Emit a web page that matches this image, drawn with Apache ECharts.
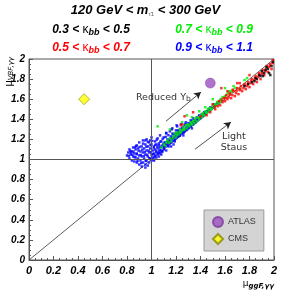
<!DOCTYPE html>
<html><head><meta charset="utf-8">
<script src="https://cdn.jsdelivr.net/npm/echarts@6/dist/echarts.min.js"></script>
<style>html,body{margin:0;padding:0;background:#fff}#c{width:291px;height:291px}</style>
</head><body><div id="c"></div>
<script>
var ticks = ['0','0.2','0.4','0.6','0.8','1','1.2','1.4','1.6','1.8','2'];
var blue = [[0.80,1.04],[0.81,1.07],[0.82,1.01],[0.82,1.10],[0.83,1.05],[0.84,0.99],[0.84,1.08],[0.85,1.03],[0.85,1.12],
[0.86,1.06],[0.86,0.98],[0.87,1.10],[0.87,1.02],[0.88,1.14],[0.88,0.97],[0.88,1.06],[0.89,1.01],[0.89,1.11],[0.90,1.04],[0.90,0.95],[0.90,1.17],
[0.91,1.08],[0.91,0.99],[0.92,1.13],[0.92,1.03],[0.92,0.93],[0.93,1.07],[0.93,0.97],[0.93,1.19],[0.94,1.11],[0.94,1.01],[0.95,1.05],[0.95,0.95],[0.95,1.15],
[0.96,1.09],[0.96,0.99],[0.96,1.20],[0.97,1.03],[0.97,1.13],[0.98,0.97],[0.98,1.07],[0.98,1.17],[0.99,1.01],[0.99,1.11],[1.00,1.05],[1.00,0.99],[1.00,1.15],[1.00,1.22],
[1.01,1.09],[1.01,1.02],[1.02,1.13],[1.02,1.06],[1.02,1.00],[1.03,1.18],[1.03,1.10],[1.03,1.04],[1.04,1.15],[1.04,1.07],[1.04,1.02],[1.05,1.21],[1.05,1.11],[1.05,1.05],
[1.06,1.16],[1.06,1.08],[1.07,1.12],[1.07,1.06],[1.07,1.24],[1.08,1.18],[1.08,1.09],[1.09,1.14],[1.09,1.08],[1.10,1.22],[1.10,1.12],[1.10,1.10],
[1.11,1.17],[1.11,1.13],[1.12,1.26],[1.12,1.15],[1.13,1.20],[1.13,1.14],[1.14,1.18],[1.14,1.13],[1.15,1.28],[1.15,1.19],[1.15,1.16],
[1.16,1.23],[1.16,1.17],[1.17,1.21],[1.17,1.31],[1.18,1.19],[1.18,1.25],[1.19,1.22],[1.19,1.18],[1.20,1.29],[1.20,1.21],[1.20,1.24],
[1.21,1.26],[1.21,1.33],[1.22,1.23],[1.22,1.29],[1.23,1.27],[1.23,1.24],[1.24,1.35],[1.24,1.28],[1.25,1.26],[1.25,1.31],
[1.26,1.29],[1.27,1.34],[1.27,1.28],[1.28,1.31],[1.28,1.37],[1.29,1.30],[1.29,1.33],[1.30,1.36],[1.30,1.31],
[1.31,1.34],[1.32,1.39],[1.32,1.33],[1.33,1.36],[1.34,1.35],[1.34,1.41],[1.35,1.38],
[1.36,1.37],[1.37,1.42],[1.37,1.39],[1.38,1.40],[1.39,1.44],[1.40,1.41],
[1.41,1.45],[1.42,1.43],[1.43,1.47],[1.44,1.45],[1.45,1.48],
[1.47,1.49],[1.48,1.52],[1.50,1.52],[1.51,1.55],[1.53,1.55],[1.55,1.57],
[0.97,0.94],[1.06,1.03],[1.16,1.13],[1.26,1.24],[1.33,1.31],[0.95,0.92],[1.02,0.99],[1.08,1.05],[1.12,1.09],[1.18,1.15],
[0.83,1.07],[0.865,1.12],[0.95,1.19],[0.99,1.19],[1.12,1.265],[1.165,1.30],[1.205,1.34],
[0.815,1.035],[0.828,1.085],[0.842,1.048],[0.853,1.078],[0.861,1.025],[0.874,1.134],[0.879,1.052],[0.886,0.985],[0.894,1.088],[0.903,1.125],[0.912,1.045],[0.917,0.965],[0.925,1.098],[0.931,1.158],[0.938,1.034],[0.946,1.075],[0.952,0.985],[0.958,1.128],[0.964,1.046],[0.971,1.176],[0.977,1.088],[0.983,1.015],[0.991,1.142],[0.996,1.072],[1.007,1.185],[1.012,1.052],[1.018,1.118],[1.026,1.028],[1.031,1.145],[1.037,1.082],[1.043,1.198],[1.048,1.128],[1.056,1.064],[1.061,1.142],[1.067,1.095],[1.072,1.178],[1.078,1.128],[1.084,1.078],[1.091,1.205],[1.097,1.155],[1.103,1.118],[1.108,1.168],[1.116,1.225],[1.122,1.138],[1.127,1.178],[1.134,1.158],[1.138,1.242],[1.143,1.195],[1.152,1.172],[1.158,1.215],[1.163,1.185],[1.171,1.258],[1.176,1.205],[1.183,1.225],[1.188,1.192],[1.195,1.262],[1.203,1.232],[1.208,1.218],[1.214,1.285],[1.218,1.245],[1.226,1.262],[1.232,1.238],[1.237,1.305],[1.243,1.265],[1.252,1.278],[1.257,1.322],[1.263,1.268],[1.271,1.298],[1.276,1.352],[1.284,1.292],[1.292,1.318],[1.297,1.342],[1.305,1.322],[1.312,1.362],[1.318,1.335],[1.326,1.378],[1.338,1.352],[1.345,1.392],[1.352,1.365],[1.364,1.398],[1.372,1.385],[1.384,1.425],[1.395,1.412],[1.408,1.438],[1.418,1.452],[1.432,1.455],[1.446,1.475],[1.458,1.482],[1.468,1.505],[1.486,1.508],[1.516,1.535],[1.538,1.565]];
var green = [[1.08,1.12],[1.10,1.15],[1.12,1.17],[1.13,1.19],[1.15,1.21],[1.16,1.18],[1.18,1.23],[1.19,1.26],[1.20,1.22],[1.21,1.27],[1.22,1.25],[1.23,1.30],[1.24,1.27],[1.25,1.29],[1.26,1.32],[1.27,1.30],[1.28,1.34],[1.29,1.31],[1.30,1.35],[1.31,1.33],[1.32,1.37],[1.33,1.35],[1.34,1.38],[1.35,1.36],[1.36,1.41],[1.37,1.38],[1.38,1.42],[1.39,1.40],[1.40,1.44],[1.41,1.42],[1.42,1.46],[1.43,1.44],[1.44,1.48],[1.45,1.46],[1.46,1.50],[1.47,1.48],[1.48,1.51],[1.49,1.50],[1.50,1.54],[1.51,1.52],[1.52,1.55],[1.53,1.54],[1.54,1.57],[1.55,1.56],[1.56,1.59],[1.57,1.58],[1.58,1.62],[1.60,1.63],[1.62,1.65],[1.64,1.68],[1.66,1.69],
[1.05,1.33],[1.15,1.30],[1.29,1.44],[1.39,1.48],[1.33,1.42],[1.44,1.52],[1.25,1.37],[1.50,1.60],[1.60,1.71],[1.67,1.73],[1.76,1.79],[1.72,1.70],[1.78,1.81],
[1.115,1.135],[1.142,1.168],[1.172,1.208],[1.205,1.245],[1.232,1.272],[1.262,1.298],[1.295,1.338],[1.322,1.355],[1.352,1.392],[1.385,1.418],[1.415,1.448],[1.448,1.472],[1.478,1.515],[1.505,1.532],[1.535,1.572],[1.565,1.602],[1.595,1.618],[1.625,1.672],[1.655,1.672],[1.685,1.712]];
var red = [[1.25,1.35],[1.34,1.47],[1.27,1.43],[1.24,1.34],[1.57,1.71],[1.40,1.43],[1.45,1.44],[1.48,1.47],[1.50,1.55],[1.52,1.50],[1.54,1.53],[1.55,1.58],[1.56,1.54],[1.58,1.57],[1.59,1.61],[1.60,1.58],[1.61,1.64],[1.62,1.60],[1.63,1.62],[1.64,1.66],[1.65,1.61],[1.66,1.64],[1.67,1.68],[1.68,1.63],[1.69,1.66],[1.70,1.71],[1.71,1.65],[1.72,1.69],[1.73,1.73],[1.74,1.68],[1.75,1.71],[1.76,1.75],[1.77,1.70],[1.78,1.73],[1.79,1.77],[1.80,1.72],[1.81,1.76],[1.82,1.80],[1.83,1.75],[1.84,1.79],[1.85,1.83],[1.86,1.77],[1.87,1.82],[1.88,1.86],[1.89,1.80],[1.90,1.85],[1.91,1.89],[1.92,1.84],[1.93,1.88],[1.94,1.93],[1.95,1.87],[1.96,1.92],[1.97,1.95],[1.98,1.90],[1.99,1.96],[1.99,1.99],[1.62,1.68],[1.70,1.76],[1.80,1.84],[1.72,1.76],
[1.515,1.525],[1.575,1.595],[1.605,1.612],[1.638,1.645],[1.665,1.695],[1.695,1.685],[1.725,1.705],[1.755,1.738],[1.785,1.752],[1.815,1.785],[1.845,1.812],[1.875,1.845],[1.905,1.865],[1.935,1.905],[1.965,1.935]];
var black = [[1.76,1.73],[1.79,1.75],[1.82,1.77],[1.84,1.78],[1.85,1.81],[1.86,1.80],[1.88,1.84],[1.89,1.83],[1.90,1.88],[1.91,1.83],[1.92,1.86],[1.94,1.92],[1.95,1.90],[1.96,1.86],[1.97,1.84],[1.98,1.93],[1.99,1.97],[1.93,1.89]];
var atlas = [[1.48,1.76]];
var cms = [[0.45,1.60]];
var diag = [[0,0],[2,2]];

var chart = echarts.init(document.getElementById('c'));
var tickFont = {fontFamily:'Liberation Sans', fontWeight:'bold', fontStyle:'italic', color:'#000'};
function pts(name, data, color){
  return {name:name, type:'scatter', data:data, symbol:'rect', symbolSize:2.5, itemStyle:{color:color}, silent:true, z:3};
}
function krich(color){
  return {a:{fill:color, fontFamily:'Liberation Sans', fontWeight:'bold', fontStyle:'italic', fontSize:12},
          k:{fill:color, fontFamily:'Liberation Sans', fontSize:12},
          s:{fill:color, fontFamily:'Liberation Sans', fontWeight:'bold', fontStyle:'italic', fontSize:9, padding:[6,0,0,0]}};
}
function kline(t1, t2){ return '{a|'+t1+' < }{k|κ}{s|bb}{a| < '+t2+'}'; }
chart.setOption({
  animation:false,
  grid:{left:29, right:17, top:59, bottom:31, show:true, borderColor:'#555', borderWidth:1},
  xAxis:{type:'value', min:0, max:2, interval:0.2,
    axisLine:{lineStyle:{color:'#555'}}, splitLine:{show:false},
    axisTick:{inside:true, length:4, lineStyle:{color:'#555'}},
    minorTick:{show:true, splitNumber:4, length:2, lineStyle:{color:'#555'}},
    axisLabel:Object.assign({fontSize:11, margin:5, formatter:function(v){return ticks[Math.round(v/0.2)];}}, tickFont)},
  yAxis:{type:'value', min:0, max:2, interval:0.2,
    axisLine:{lineStyle:{color:'#555'}}, splitLine:{show:false},
    axisTick:{inside:true, length:4, lineStyle:{color:'#555'}},
    minorTick:{show:true, splitNumber:4, length:2, lineStyle:{color:'#555'}},
    axisLabel:Object.assign({fontSize:10, margin:4, formatter:function(v){return ticks[Math.round(v/0.2)];}}, tickFont)},
  legend:{data:['ATLAS','CMS'], orient:'vertical', left:204, top:210, padding:[6,8,6,8], itemGap:5,
    itemWidth:10, itemHeight:10, backgroundColor:'#d4d4d4', borderColor:'#999', borderWidth:1,
    textStyle:{fontFamily:'Liberation Sans', fontSize:9, color:'#333'}, selectedMode:false},
  series:[
    {type:'line', data:diag, symbol:'none', lineStyle:{color:'#333', width:0.8}, silent:true, z:1,
     markLine:{silent:true, symbol:'none', label:{show:false}, lineStyle:{color:'#555', width:1, type:'solid'},
       data:[{xAxis:1},{yAxis:1}]}},
    {type:'line', data:[], silent:true,
     markLine:{silent:true, symbol:['none','arrow'], symbolSize:[6,7], label:{show:false}, lineStyle:{color:'#222', width:0.8, type:'solid'},
       data:[[{coord:[1.118,1.381]},{coord:[1.404,1.671]}],[{coord:[1.355,1.102]},{coord:[1.649,1.372]}]]},
     markPoint:{silent:true, symbol:'circle', symbolSize:0,
       data:[{coord:[0.873,1.62], label:{show:true, position:'right', distance:0, formatter:'{a|Reduced Y}{b|b}',
               rich:{a:{fontFamily:'DejaVu Sans', fontSize:9.5, color:'#333'}, b:{fontFamily:'DejaVu Sans', fontSize:7.5, color:'#333', padding:[4,0,0,0]}}}},
             {coord:[1.673,1.172], label:{show:true, position:'inside', formatter:'Light\nStaus', align:'center', lineHeight:11,
               fontFamily:'DejaVu Sans', fontSize:9.5, color:'#333'}}]}},
    pts('b', blue, '#0000ff'),
    pts('g', green, '#00ee00'),
    pts('r', red, '#ff0000'),
    pts('k', black, '#000000'),
    {name:'ATLAS', type:'scatter', data:atlas, symbol:'circle', symbolSize:10, itemStyle:{color:'#9b4fc0', borderColor:'#7a3a9a', borderWidth:0.5}, z:5},
    {name:'CMS', type:'scatter', data:cms, symbol:'diamond', symbolSize:11, itemStyle:{color:'#ffff00', borderColor:'#888800', borderWidth:0.8}, z:5}
  ],
  graphic:[
    {type:'text', left:'center', top:4, style:{text:'{a|120 GeV < m}{s|τ̃1}{a| < 300 GeV}', rich:{a:{fill:'#000', fontFamily:'Liberation Sans', fontWeight:'bold', fontStyle:'italic', fontSize:13}, s:{fill:'#666', fontFamily:'Liberation Sans', fontSize:6, padding:[8,0,0,0]}}}},
    {type:'text', x:91, y:30, style:{text:kline('0.3','0.5'), rich:krich('#000'), align:'center', verticalAlign:'middle'}},
    {type:'text', x:214, y:30, style:{text:kline('0.7','0.9'), rich:krich('#00ee00'), align:'center', verticalAlign:'middle'}},
    {type:'text', x:91, y:48, style:{text:kline('0.5','0.7'), rich:krich('#ff0000'), align:'center', verticalAlign:'middle'}},
    {type:'text', x:214, y:48, style:{text:kline('0.9','1.1'), rich:krich('#0000ff'), align:'center', verticalAlign:'middle'}},
    {type:'text', x:9, y:57, rotation:Math.PI/2, style:{text:'{a|μ}{s|VBF,γγ}', align:'right', verticalAlign:'middle',
      rich:{a:{fill:'#000', fontFamily:'DejaVu Sans', fontSize:10}, s:{fill:'#000', fontFamily:'DejaVu Sans', fontStyle:'italic', fontSize:7, padding:[5,0,0,0]}}}},
    {type:'text', x:274, y:284, style:{text:'{a|μ}{s|ggF,γγ}', align:'right', verticalAlign:'middle',
      rich:{a:{fill:'#000', fontFamily:'DejaVu Sans', fontSize:9}, s:{fill:'#000', fontFamily:'DejaVu Sans', fontStyle:'italic', fontWeight:'bold', fontSize:7, padding:[5,0,0,0]}}}}
  ]
});
</script></body></html>
